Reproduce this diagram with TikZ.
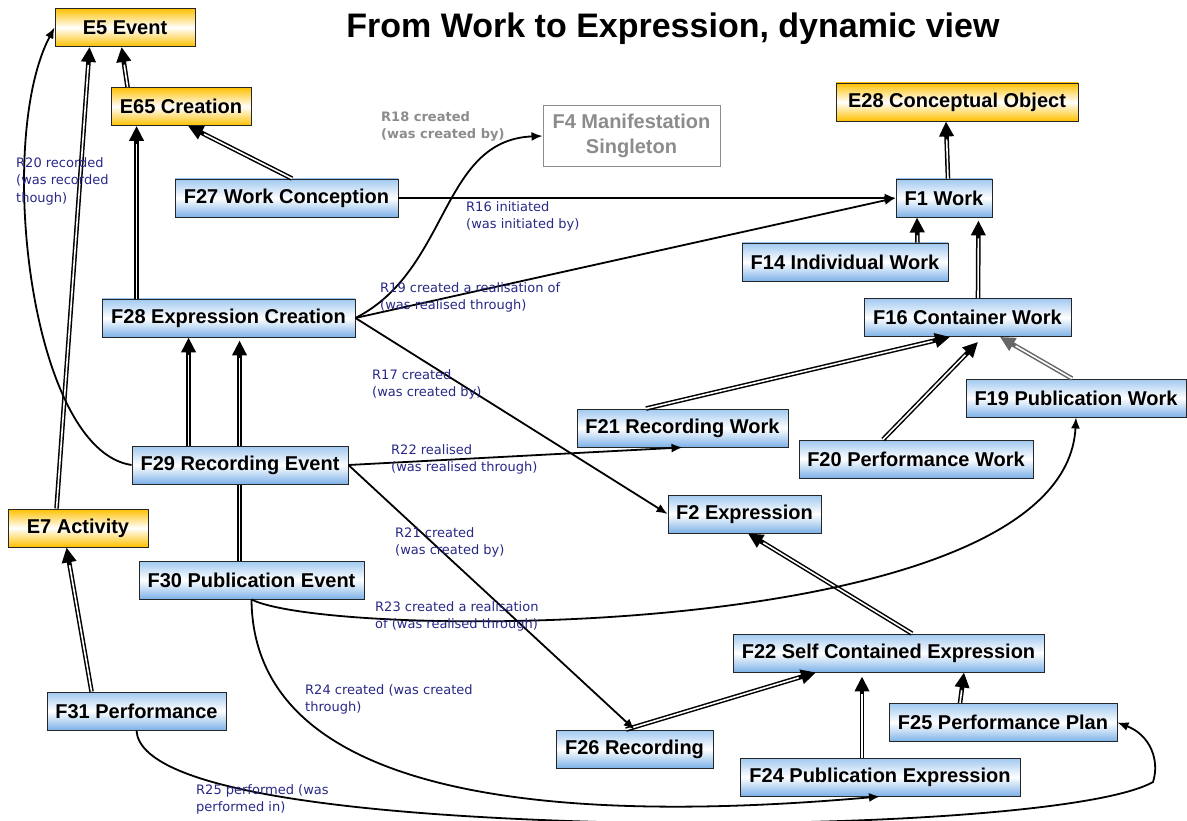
\documentclass[tikz,border=0pt]{standalone}
\usepackage{fontspec}
\setmainfont{Liberation Sans}
\newfontfamily\lblfont{DejaVu Sans}
\usetikzlibrary{arrows.meta,backgrounds}
\definecolor{boxblue}{RGB}{160,200,240}
\definecolor{boxbluedark}{RGB}{125,178,232}
\definecolor{boxorange}{RGB}{255,192,0}
\definecolor{lblnavy}{RGB}{40,40,135}
\definecolor{greytext}{RGB}{140,140,140}
\tikzstyle{fclass} = [rectangle, draw=black!85, line width=0.9pt, top color=boxblue, bottom color=boxbluedark, middle color=white, minimum height=38pt, inner sep=0pt, font=\fontsize{20}{22}\selectfont\bfseries]
\tikzstyle{eclass} = [fclass, top color=boxorange, bottom color=boxorange, middle color=white]
\tikzstyle{connector} = [line width=1.8pt, -{Latex[length=11pt,width=9pt]}]
\tikzstyle{isa} = [line width=4.6pt, -{Triangle[length=15pt,width=14pt]}, postaction={draw=white, line width=1.6pt, shorten >=18pt, arrows=-}]
\tikzstyle{lbl} = [anchor=north west, inner sep=0pt, align=left, text=lblnavy, font=\lblfont\fontsize{13}{17.5}\selectfont]

\begin{document}
\begin{tikzpicture}[x=1pt, y=-1pt]
        \useasboundingbox (0,0) rectangle (1187,821);
        \node (title) at (673,29) {\fontsize{34}{36}\selectfont\bfseries From Work to Expression, dynamic view};
        % classes
        \node (e5) [eclass, minimum width=140pt] at (125,27.5) {E5 Event};
        \node (e65) [eclass, minimum width=140pt] at (181,106.5) {E65 Creation};
        \node (e28) [eclass, minimum width=242pt] at (957,102) {E28 Conceptual Object};
        \node (e7) [eclass, minimum width=140pt] at (78,528) {E7 Activity};
        \node (f27) [fclass, minimum width=223pt] at (286.5,198) {F27 Work Conception};
        \node (f4) [rectangle, draw=greytext, line width=1pt, fill=white, minimum width=177pt, minimum height=61pt, align=center, text=greytext, font=\fontsize{20}{25}\selectfont\bfseries] at (631.5,136) {F4 Manifestation\\Singleton};
        \node (f1) [fclass, minimum width=96pt] at (944,198) {F1 Work};
        \node (f14) [fclass, minimum width=206pt] at (845,262) {F14 Individual Work};
        \node (f16) [fclass, minimum width=207pt] at (967.5,317.5) {F16 Container Work};
        \node (f28) [fclass, minimum width=253pt] at (228.5,318) {F28 Expression Creation};
        \node (f19) [fclass, minimum width=220pt] at (1076,398) {F19 Publication Work};
        \node (f21) [fclass, minimum width=211pt] at (682.5,428) {F21 Recording Work};
        \node (f20) [fclass, minimum width=234pt] at (916,459) {F20 Performance Work};
        \node (f29) [fclass, minimum width=216pt] at (240,465) {F29 Recording Event};
        \node (f2) [fclass, minimum width=153pt] at (744.5,514) {F2 Expression};
        \node (f30) [fclass, minimum width=225pt] at (251.5,580) {F30 Publication Event};
        \node (f22) [fclass, minimum width=311pt] at (888.5,653) {F22 Self Contained Expression};
        \node (f31) [fclass, minimum width=179pt] at (136.5,711) {F31 Performance};
        \node (f25) [fclass, minimum width=228pt] at (1003,722.5) {F25 Performance Plan};
        \node (f26) [fclass, minimum width=157pt] at (634.5,749) {F26 Recording};
        \node (f24) [fclass, minimum width=280pt] at (880,777) {F24 Publication Expression};
        % subclass links
        \draw [isa] ([xshift=17pt]e65.north west) -- ([xshift=67pt]e5.south west);
        \draw [isa] ([xshift=49pt]e7.north west) -- ([xshift=35pt]e5.south west);
        \draw [isa] ([xshift=5.5pt]f27.north) -- ([xshift=7pt]e65.south);
        \draw [isa] ([xshift=35pt]f28.north west) -- ([xshift=26pt]e65.south west);
        \draw [isa] ([xshift=57pt]f29.north west) -- ([xshift=87pt]f28.south west);
        \begin{scope}[on background layer]
        \draw [isa] ([xshift=101pt]f30.north west) -- ([xshift=138pt,yshift=-3pt]f28.south west);
        \end{scope}
        \draw [isa] ([xshift=45pt]f31.north west) -- ([xshift=59pt]e7.south west);
        \draw [isa] ([xshift=4pt]f1.north) -- ([xshift=-11pt]e28.south);
        \draw [isa] ([xshift=-31pt]f14.north east) -- ([xshift=-27pt]f1.south);
        \draw [isa] ([xshift=10.5pt]f16.north) -- ([xshift=-14pt,yshift=-3pt]f1.south east);
        \draw [isa] ([xshift=-36.5pt]f21.north) -- ([xshift=-17.5pt]f16.south);
        \draw [isa] ([xshift=-33pt]f20.north) -- ([xshift=10.5pt,yshift=-5pt]f16.south);
        \draw [isa, draw=black!60] ([xshift=-4pt]f19.north) -- ([xshift=32.5pt]f16.south);
        \draw [isa] ([xshift=23.5pt]f22.north) -- ([xshift=3.5pt]f2.south);
        \draw [isa] ([xshift=-8.5pt]f26.north) -- ([xshift=-72.5pt]f22.south);
        \draw [isa] ([xshift=-18pt]f24.north) -- ([xshift=-26.5pt,yshift=-4pt]f22.south);
        \draw [isa] ([xshift=-43pt]f25.north) -- ([xshift=75.5pt]f22.south);
        % properties
        \draw [connector] (f27.east) -- (f1.west);
        \draw [connector] (f28.east) -- (f1.west);
        \draw [connector] (f28.east) .. controls (450,270) and (440,140) .. (f4.west);
        \draw [connector] (f28.east) -- (f2.west);
        \draw [connector] (f29.east) -- (f21.south);
        \draw [connector] (f29.east) -- (f26.north);
        \draw [connector] (f29.west) .. controls (30,450) and (-5,140) .. (e5.west);
        \draw [connector] (f30.south) .. controls (330,640) and (1065,645) .. (f19.south);
        \draw [connector] (f30.south) .. controls (253,780) and (500,830) .. (f24.south);
        \draw [connector] (f31.south) .. controls (140,790) and (350,815) .. (600,822)
                                      .. controls (850,828) and (1100,812) .. (1153,782)
                                      .. controls (1160,760) and (1150,735) .. (f25.east);
        % property labels
        \node (lbl-r16) [lbl] at (466,201) {R16 initiated\\(was initiated by)};
        \node (lbl-r18) [lbl, text=greytext, font=\lblfont\bfseries\fontsize{13}{17.5}\selectfont] at (381,111) {R18 created\\(was created by)};
        \node (lbl-r19) [lbl] at (380,282) {R19 created a realisation of\\(was realised through)};
        \node (lbl-r17) [lbl] at (372,369) {R17 created\\(was created by)};
        \node (lbl-r22) [lbl] at (391,444) {R22 realised\\(was realised through)};
        \node (lbl-r21) [lbl] at (395,527) {R21 created\\(was created by)};
        \node (lbl-r23) [lbl] at (375,601) {R23 created a realisation\\of (was realised through)};
        \node (lbl-r24) [lbl] at (305,684) {R24 created (was created\\through)};
        \node (lbl-r25) [lbl] at (196,784) {R25 performed (was\\performed in)};
        \node (lbl-r20) [lbl] at (16,157) {R20 recorded\\(was recorded\\though)};
\end{tikzpicture}
\end{document}
